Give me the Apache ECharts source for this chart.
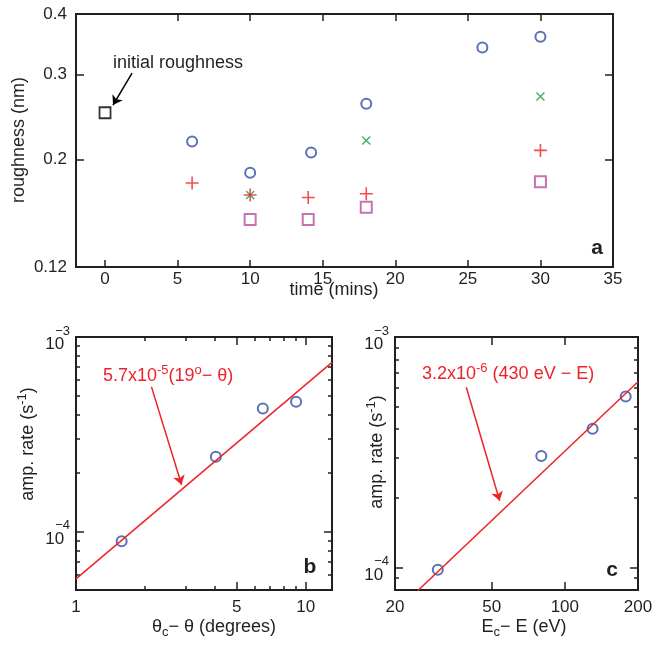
<!DOCTYPE html>
<html><head><meta charset="utf-8">
<script src="https://cdn.jsdelivr.net/npm/echarts@6/dist/echarts.min.js"></script>
<style>html,body{margin:0;padding:0;background:#fff}#c{width:665px;height:646px}</style>
</head><body><div id="c"></div>
<script>
// ---------- Panel a : roughness vs time ----------
const aTimeRange = [-2, 35];
const aTimeTicks = [0, 5, 10, 15, 20, 25, 30, 35];
const aRoughRange = [0.12, 0.4];
const aRoughTicks = [0.12, 0.2, 0.3, 0.4];
const aInitial = [[0, 0.25]];
const aCircles = [[6, 0.218], [10, 0.188], [14.2, 0.207], [18, 0.261], [26, 0.341], [30, 0.359]];
const aCrosses = [[10, 0.169], [18, 0.219], [30, 0.27]];
const aPluses = [[6, 0.179], [10, 0.169], [14, 0.167], [18, 0.17], [30, 0.209]];
const aSquares = [[10, 0.1505], [14, 0.1505], [18, 0.1594], [30, 0.18]];
const aArrow = [[1.86, 0.302], [0.55, 0.2594]];

// ---------- Panel b : amp. rate vs theta_c - theta ----------
const bXRange = [1, 13];
const bXMajor = [1, 5, 10];
const bXMinor = [2, 3, 4, 6, 7, 8, 9];
const bYRange = [5e-5, 1e-3];
const bYMajor = [1e-4, 1e-3];
const bYMinor = [6e-5, 7e-5, 8e-5, 9e-5, 2e-4, 3e-4, 4e-4, 5e-4, 6e-4, 7e-4, 8e-4, 9e-4];
const bPoints = [[1.58, 8.9e-5], [4.06, 2.42e-4], [6.5, 4.29e-4], [9.07, 4.64e-4]];
const bFit = [[1, 5.7e-5], [13, 7.4e-4]];
const bArrow = [[2.13, 5.54e-4], [2.88, 1.74e-4]];

// ---------- Panel c : amp. rate vs Ec - E ----------
const cXRange = [20, 200];
const cXMajor = [20, 50, 100, 200];
const cYRange = [8e-5, 1e-3];
const cYMajor = [1e-4, 1e-3];
const cYMinor = [9e-5, 2e-4, 3e-4, 4e-4, 5e-4, 6e-4, 7e-4, 8e-4, 9e-4];
const cPoints = [[30, 9.8e-5], [80, 3.05e-4], [130, 4.0e-4], [178, 5.52e-4]];
const cFit = [[24.8, 7.94e-5], [200, 6.4e-4]];
const cArrow = [[39.3, 6.06e-4], [53.9, 1.95e-4]];

const FONT = '"Liberation Sans", Arial, Helvetica, sans-serif';
const AX = '#231f20';
const TXT = '#231f20';
const BLUE = '#2f4ea5';
const RED = '#ee2229';
const GREEN = '#1f9a46';
const MAG = '#b9509f';

const xAxis = [], yAxis = [];
function mk(type, grid, pos, range, ticks, len, label) {
  const o = {
    type: type, gridIndex: grid, position: pos, min: range[0], max: range[1],
    axisLine: {show: false, onZero: false},
    splitLine: {show: false},
    axisTick: {show: true, inside: true, length: len, customValues: ticks, lineStyle: {color: AX, width: 1.5}},
    axisLabel: {show: false}
  };
  if (type === 'log') o.logBase = 10;
  if (label) o.axisLabel = Object.assign({show: true, customValues: ticks, color: TXT, fontSize: 17, fontFamily: FONT}, label);
  return o;
}
function addX() { xAxis.push(mk.apply(null, arguments)); return xAxis.length - 1; }
function addY() { yAxis.push(mk.apply(null, arguments)); return yAxis.length - 1; }

const powRich = {
  b: {fontSize: 17, fontFamily: FONT, color: TXT, padding: [15, 0, 0, 0]},
  s: {fontSize: 13, fontFamily: FONT, color: TXT, padding: [0, 0, 12, -9]}
};
const powFmt = v => '{b|10}{s|\u2212' + Math.round(-Math.log10(v)) + '}';

// panel a axes
const aX = addX('value', 0, 'bottom', aTimeRange, aTimeTicks, 7, {margin: 4, formatter: v => String(v)});
addX('value', 0, 'top', aTimeRange, aTimeTicks.slice(1, -1), 7, null);
const aY = addY('log', 0, 'left', aRoughRange, aRoughTicks, 8, {margin: 9, formatter: v => String(+(+v).toPrecision(3))});
addY('log', 0, 'right', aRoughRange, aRoughTicks.slice(1, -1), 8, null);

// panel b axes
const bX = addX('log', 1, 'bottom', bXRange, bXMajor, 8, {margin: 9, formatter: v => String(Math.round(v))});
addX('log', 1, 'bottom', bXRange, bXMinor, 4, null);
addX('log', 1, 'top', bXRange, bXMajor, 8, null);
addX('log', 1, 'top', bXRange, bXMinor, 4, null);
const bY = addY('log', 1, 'left', bYRange, bYMajor, 8, {margin: 6, formatter: powFmt, rich: powRich});
addY('log', 1, 'left', bYRange, bYMinor, 4, null);
addY('log', 1, 'right', bYRange, bYMajor, 8, null);
addY('log', 1, 'right', bYRange, bYMinor, 4, null);

// panel c axes
const cX = addX('log', 2, 'bottom', cXRange, cXMajor, 8, {margin: 9, formatter: v => String(Math.round(v))});
addX('log', 2, 'top', cXRange, cXMajor, 8, null);
const cY = addY('log', 2, 'left', cYRange, cYMajor, 8, {margin: 6, formatter: powFmt, rich: powRich});
addY('log', 2, 'left', cYRange, cYMinor, 4, null);
addY('log', 2, 'right', cYRange, cYMajor, 8, null);
addY('log', 2, 'right', cYRange, cYMinor, 4, null);

function grid(l, t, w, h) {
  return {left: l, top: t, width: w, height: h, show: true, borderColor: AX, borderWidth: 2,
          backgroundColor: 'transparent', containLabel: false, outerBoundsMode: 'none'};
}
function arrow(pts, color) {
  return {
    silent: true, animation: false, symbol: ['none', 'arrow'], symbolSize: 9,
    label: {show: false},
    itemStyle: {color: color},
    lineStyle: {color: color, width: 1.5, type: 'solid'},
    emphasis: {disabled: true},
    data: [[{coord: pts[0]}, {coord: pts[1]}]]
  };
}
const CROSS = 'path://M0,0L10,10M10,0L0,10';
const PLUS = 'path://M5,0L5,10M0,5L10,5';

const series = [
  {type: 'scatter', xAxisIndex: aX, yAxisIndex: aY, data: aInitial, symbol: 'rect', symbolSize: 11,
   itemStyle: {color: 'transparent', borderColor: '#000', borderWidth: 1.8}, markLine: arrow(aArrow, '#000')},
  {type: 'scatter', xAxisIndex: aX, yAxisIndex: aY, data: aCircles, symbol: 'emptyCircle', symbolSize: 10,
   itemStyle: {color: BLUE, borderWidth: 1.5}},
  {type: 'scatter', xAxisIndex: aX, yAxisIndex: aY, data: aCrosses, symbol: CROSS, symbolSize: 8,
   itemStyle: {color: 'transparent', borderColor: GREEN, borderWidth: 1.5}},
  {type: 'scatter', xAxisIndex: aX, yAxisIndex: aY, data: aPluses, symbol: PLUS, symbolSize: 13,
   itemStyle: {color: 'transparent', borderColor: RED, borderWidth: 1.6}},
  {type: 'scatter', xAxisIndex: aX, yAxisIndex: aY, data: aSquares, symbol: 'rect', symbolSize: 11,
   itemStyle: {color: 'transparent', borderColor: MAG, borderWidth: 2}},

  {type: 'line', xAxisIndex: bX, yAxisIndex: bY, data: bFit, showSymbol: false, symbol: 'none',
   itemStyle: {color: RED}, lineStyle: {color: RED, width: 1.5}, markLine: arrow(bArrow, RED)},
  {type: 'scatter', xAxisIndex: bX, yAxisIndex: bY, data: bPoints, symbol: 'emptyCircle', symbolSize: 10,
   itemStyle: {color: BLUE, borderWidth: 1.5}},

  {type: 'line', xAxisIndex: cX, yAxisIndex: cY, data: cFit, showSymbol: false, symbol: 'none',
   itemStyle: {color: RED}, lineStyle: {color: RED, width: 1.5}, markLine: arrow(cArrow, RED)},
  {type: 'scatter', xAxisIndex: cX, yAxisIndex: cY, data: cPoints, symbol: 'emptyCircle', symbolSize: 10,
   itemStyle: {color: BLUE, borderWidth: 1.5}}
];

function txt(text, x, y, opts) {
  return Object.assign({
    type: 'text', x: x, y: y, silent: true,
    style: Object.assign({text: text, fill: TXT, fontSize: 18, fontFamily: FONT, align: 'center', verticalAlign: 'middle'}, opts && opts.style)
  }, opts && opts.el);
}
const supR = (c) => ({s: {fontSize: 13, fontFamily: FONT, fill: c, padding: [0, 0, 12, 0]}});
const subR = {c: {fontSize: 13, fontFamily: FONT, fill: TXT, padding: [11, 0, 0, 0]}};

const graphic = [
  txt('roughness (nm)', 19, 140, {el: {rotation: Math.PI / 2}}),
  txt('time (mins)', 334, 290),
  txt('initial roughness', 113, 63, {style: {align: 'left'}}),
  txt('a', 597, 248, {style: {fontWeight: 'bold', fontSize: 21}}),
  txt('amp. rate (s{s|-1})', 28, 444, {el: {rotation: Math.PI / 2}, style: {rich: supR(TXT)}}),
  txt('\u03b8{c|c}\u2212 \u03b8 (degrees)', 214, 627, {style: {rich: subR}}),
  txt('5.7x10{s|-5}(19{s|o}\u2212 \u03b8)', 103, 376, {style: {align: 'left', fill: RED, rich: supR(RED)}}),
  txt('b', 310, 567, {style: {fontWeight: 'bold', fontSize: 21}}),
  txt('amp. rate (s{s|-1})', 377, 452, {el: {rotation: Math.PI / 2}, style: {rich: supR(TXT)}}),
  txt('E{c|c}\u2212 E (eV)', 524, 627, {style: {rich: subR}}),
  txt('3.2x10{s|-6} (430 eV \u2212 E)', 422, 374, {style: {align: 'left', fill: RED, rich: supR(RED)}}),
  txt('c', 612, 570, {style: {fontWeight: 'bold', fontSize: 21}})
];

const chart = echarts.init(document.getElementById('c'), null, {renderer: 'canvas'});
chart.setOption({
  animation: false,
  backgroundColor: '#fff',
  grid: [grid(76, 14, 537, 253), grid(76, 337, 256, 253), grid(395, 337, 243, 253)],
  xAxis: xAxis,
  yAxis: yAxis,
  series: series,
  graphic: graphic
});
</script>
</body></html>
